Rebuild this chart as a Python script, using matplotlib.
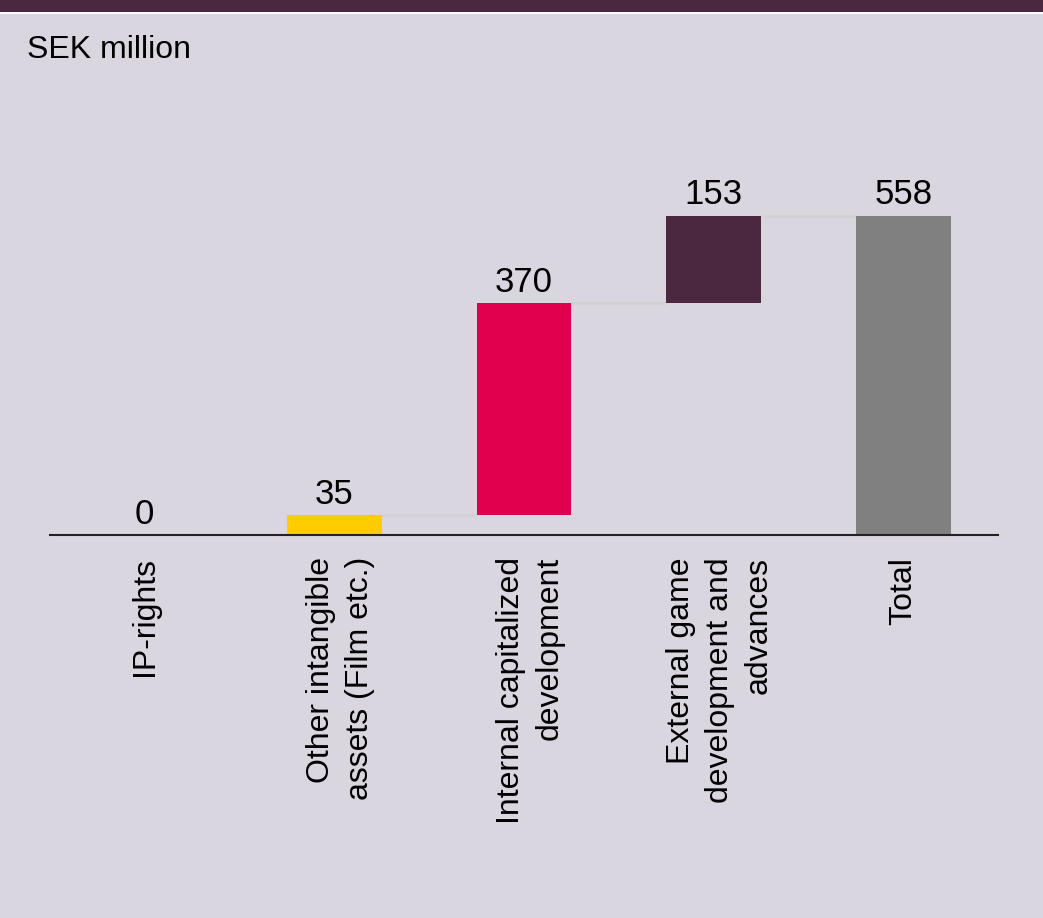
import matplotlib
matplotlib.use("Agg")
import matplotlib.pyplot as plt
from matplotlib.patches import Rectangle
from matplotlib.transforms import ScaledTranslation

plt.rcParams['font.family'] = ['Liberation Sans', 'DejaVu Sans']

# Intangible assets bridge, SEK million
categories = ['IP-rights', 'Other intangible\nassets (Film etc.)',
              'Internal capitalized\ndevelopment',
              'External game\ndevelopment and\nadvances', 'Total']
steps = [0, 35, 370, 153]
step_colors = ['#FFCC00', '#FFCC00', '#E0004D', '#4B2840']
total_color = '#808080'
bg = '#D9D6E0'

total = sum(steps)
bottoms = []
running = 0
for v in steps:
    bottoms.append(running)
    running += v

values = steps + [total]
bottoms = bottoms + [0]
colors = step_colors + [total_color]

fig = plt.figure(figsize=(10.43, 9.18), dpi=100, facecolor=bg)

# header band
fig.patches.append(Rectangle((0, 1 - 12 / 918), 1, 12 / 918, transform=fig.transFigure,
                             facecolor='#4B2840', edgecolor='none', zorder=0))
fig.patches.append(Rectangle((0, 1 - 14 / 918), 1, 2 / 918, transform=fig.transFigure,
                             facecolor='white', edgecolor='none', zorder=0))

ax = fig.add_axes([50 / 1043, (918 - 535) / 918, 948 / 1043, 435 / 918])
ax.set_facecolor(bg)

x = list(range(len(values)))
width = 0.5
ax.bar(x, values, bottom=bottoms, width=width, color=colors, zorder=3)

# connectors between bars
for i in range(len(values) - 1):
    level = bottoms[i] + values[i]
    ax.plot([x[i] + width / 2, x[i + 1] - width / 2], [level, level],
            color='#D2D2D4', lw=2.2, zorder=2, solid_capstyle='butt')

for xi, b, v in zip(x, bottoms, values):
    ax.annotate(f'{v}', (xi, b + v), xytext=(0, 3), textcoords='offset points',
                ha='center', va='bottom', fontsize=25, color='black')

ax.set_xlim(-0.5, 4.5)
ax.set_ylim(0, 760)
ax.set_xticks(x)
ax.set_xticklabels(categories, rotation=90, fontsize=23, ha='center', va='top',
                   multialignment='right', linespacing=1.38)
ax.tick_params(axis='x', length=0, pad=16)

# nudge wrapped labels a little to the right
for lbl in ax.get_xticklabels():
    if '\n' in lbl.get_text():
        lbl.set_transform(lbl.get_transform() + ScaledTranslation(6 / 100, 0, fig.dpi_scale_trans))

ax.set_yticks([])
for s in ['top', 'right', 'left']:
    ax.spines[s].set_visible(False)
ax.spines['bottom'].set_linewidth(1.5)
ax.spines['bottom'].set_color('#222222')
ax.spines['bottom'].set_zorder(4)

fig.text(27 / 1043, 1 - 50 / 918, 'SEK million', fontsize=23, va='center', ha='left')

fig.savefig('out.png', dpi=100, facecolor=bg)
